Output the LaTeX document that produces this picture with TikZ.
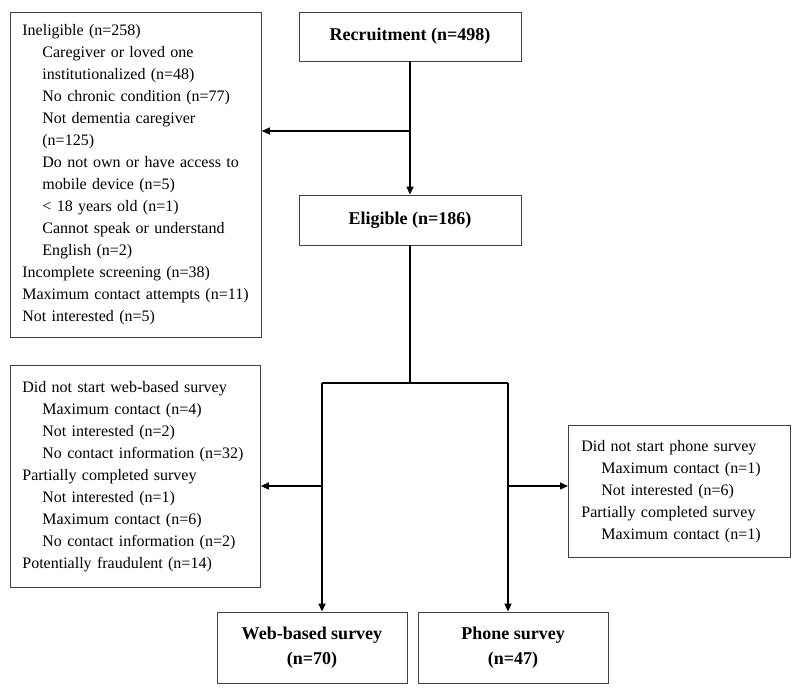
\documentclass[tikz,border=0pt]{standalone}
\usepackage{fontspec}
\setmainfont{Liberation Serif}
\usetikzlibrary{arrows.meta}

\tikzset{
  stagebox/.style={draw=black!75, line width=0.8pt, inner sep=0pt, align=center,
    font=\fontsize{18}{25}\selectfont\bfseries},
  exclbox/.style={draw=black!75, line width=0.8pt, anchor=north west, align=left,
    inner ysep=0pt, font=\fontsize{16}{22}\selectfont},
  flow/.style={line width=1.3pt, -{Triangle[length=8pt,width=7pt]}},
  bar/.style={line width=1.3pt}
}
\newcommand{\sub}{\hspace*{20pt}}

\begin{document}
\begin{tikzpicture}[x=1pt,y=-1pt]

\useasboundingbox (0,0) rectangle (800,695);

% main stages
\node[stagebox, minimum width=222pt, minimum height=49pt] (rec) at (410,36.5) {Recruitment (n=498)};
\node[stagebox, minimum width=222pt, minimum height=50pt] (eli) at (410,220) {Eligible (n=186)};
\node[stagebox, minimum width=190pt, minimum height=71pt] (web) at (312,647.5) {Web-based survey\\(n=70)};
\node[stagebox, minimum width=190pt, minimum height=71pt] (phone) at (513,647.5) {Phone survey\\(n=47)};

% exclusions
\node[exclbox, inner xsep=12pt, text width=227pt, minimum height=325pt] (inel) at (10,12) {%
Ineligible (n=258)\\
\sub Caregiver or loved one\\
\sub institutionalized (n=48)\\
\sub No chronic condition (n=77)\\
\sub Not dementia caregiver\\
\sub (n=125)\\
\sub Do not own or have access to\\
\sub mobile device (n=5)\\
\sub < 18 years old (n=1)\\
\sub Cannot speak or understand\\
\sub English (n=2)\\
Incomplete screening (n=38)\\
Maximum contact attempts (n=11)\\
Not interested (n=5)};

\node[exclbox, inner xsep=12pt, text width=226pt, minimum height=222pt] (webx) at (10,365) {%
Did not start web-based survey\\
\sub Maximum contact (n=4)\\
\sub Not interested (n=2)\\
\sub No contact information (n=32)\\
Partially completed survey\\
\sub Not interested (n=1)\\
\sub Maximum contact (n=6)\\
\sub No contact information (n=2)\\
Potentially fraudulent (n=14)};

\node[exclbox, inner xsep=13pt, text width=196pt, minimum height=132pt] (phx) at (568,425) {%
Did not start phone survey\\
\sub Maximum contact (n=1)\\
\sub Not interested (n=6)\\
Partially completed survey\\
\sub Maximum contact (n=1)};

% connectors
\coordinate (br1) at (410,131);
\coordinate (split) at (410,383);
\coordinate (wtop) at (322,383);
\coordinate (ptop) at (508,383);
\coordinate (wmid) at (322,486);
\coordinate (pmid) at (508,486);

\draw[flow] (rec.south) -- (eli.north);
\draw[flow] (br1) -- (inel.east |- br1);
\draw[bar] (eli.south) -- (split);
\draw[bar] (wtop) -- (ptop);
\draw[flow] (wtop) -- (wtop |- web.north);
\draw[flow] (ptop) -- (ptop |- phone.north);
\draw[flow] (wmid) -- (webx.east |- wmid);
\draw[flow] (pmid) -- (phx.west |- pmid);

\end{tikzpicture}
\end{document}
